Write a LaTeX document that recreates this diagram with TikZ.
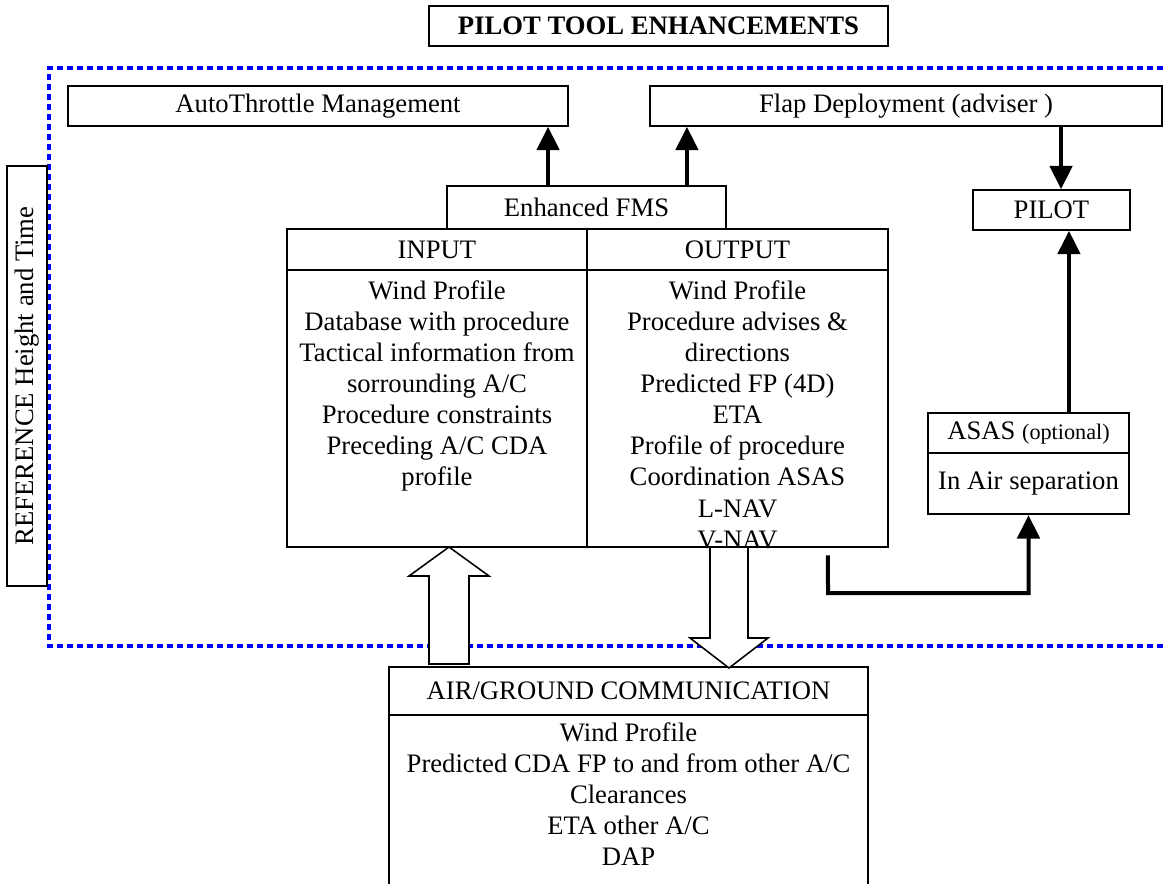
\documentclass[tikz,border=0pt]{standalone}
\usepackage{fontspec}
\setmainfont{Liberation Serif}
\usetikzlibrary{arrows.meta}

\begin{document}
\begin{tikzpicture}[x=0.45pt, y=-0.45pt, font=\fontsize{12}{14}\selectfont]
\tikzstyle{box} = [draw, line width=0.7pt, inner sep=0pt, align=center]
\tikzstyle{iobox} = [draw, line width=1pt, inner sep=0pt, align=center]
\tikzstyle{txt} = [inner sep=0pt, align=center, anchor=north]
\tikzstyle{link} = [line width=1.8pt, -{Triangle[length=10.5pt, width=10pt]}]
\tikzstyle{block} = [draw, line width=0.7pt, fill=white, line join=miter]
\tikzstyle{frame} = [draw=blue, line width=1.4pt, dash pattern=on 2.7pt off 1.8pt]

\useasboundingbox (0,0) rectangle (1163,884);

\node[box, minimum width=206.6pt, minimum height=18pt, font=\fontsize{12}{14}\selectfont\bfseries] (title) at (658.5,26) {PILOT TOOL ENHANCEMENTS};

\draw[frame] (1163,68) -- (49,68) -- (49,646) -- (1163,646);

\node[box, rotate=90, minimum width=189pt, minimum height=18pt] (refht) at (27,376) {REFERENCE Height and Time};

\node[box, minimum width=225pt, minimum height=18pt] (auto) at (318,106) {AutoThrottle Management};
\node[box, minimum width=230.4pt, minimum height=18pt] (flap) at (906,106) {Flap Deployment (adviser )};
\node[box, minimum width=125.6pt, minimum height=19.4pt] (fms) at (586.5,207.5) {Enhanced FMS};
\node[box, minimum width=70.7pt, minimum height=18pt] (pilot) at (1051.5,210) {PILOT};

\node[iobox, minimum width=135pt, minimum height=18.5pt] (inhead) at (437,249.5) {INPUT};
\node[iobox, minimum width=135.5pt, minimum height=18.5pt] (outhead) at (737.5,249.5) {OUTPUT};
\node[iobox, minimum width=135pt, minimum height=124.7pt] (inbody) at (437,408.5) {};
\node[iobox, minimum width=135.5pt, minimum height=124.7pt] (outbody) at (737.5,408.5) {};
\node[txt] (inlist) at (437,280) {Wind Profile\\Database with procedure\\Tactical information from\\sorrounding A/C\\Procedure constraints\\Preceding A/C CDA\\profile};
\node[txt] (outlist) at (737.5,280) {Wind Profile\\Procedure advises \&\\directions\\Predicted FP (4D)\\ETA\\Profile of procedure\\Coordination ASAS\\L-NAV\\V-NAV};

\node[iobox, minimum width=90.5pt, minimum height=18pt] (asashead) at (1028.5,433) {ASAS {\fontsize{10}{12}\selectfont(optional)}};
\node[iobox, minimum width=90.5pt, minimum height=27.5pt] (asasbody) at (1028.5,483.5) {In Air separation};

\node[box, minimum width=215.6pt, minimum height=21.6pt] (aghead) at (628.5,691) {AIR/GROUND COMMUNICATION};
\node[box, minimum width=215.6pt, minimum height=83.25pt] (agbody) at (628.5,807.5) {};
\node[txt] (aglist) at (628.5,722) {Wind Profile\\Predicted CDA FP to and from other A/C\\Clearances\\ETA other A/C\\DAP};

\draw[link] ([xshift=-17.3pt]fms.north) -- ([xshift=-17.3pt]fms.north |- auto.south);
\draw[link] ([xshift=45.2pt]fms.north) -- ([xshift=45.2pt]fms.north |- flap.south);
\draw[link] ([xshift=4.3pt]pilot.north |- flap.south) -- ([xshift=4.3pt]pilot.north);
\draw[link] ([xshift=18.2pt]asashead.north) -- ([xshift=18.2pt]asashead.north |- pilot.south);
\coordinate (bend) at (828,593);
\draw[link] ([xshift=40.7pt,yshift=-3.2pt]outbody.south) -- (bend) -| (asasbody.south);

\draw[block] (429,664) -- (429,576) -- (409,576) -- (449,547) -- (489,576) -- (469,576) -- (469,664) -- cycle;
\draw[block] (710,547) -- (710,638) -- (690,638) -- (729,668) -- (768,638) -- (748,638) -- (748,547) -- cycle;
\end{tikzpicture}
\end{document}
